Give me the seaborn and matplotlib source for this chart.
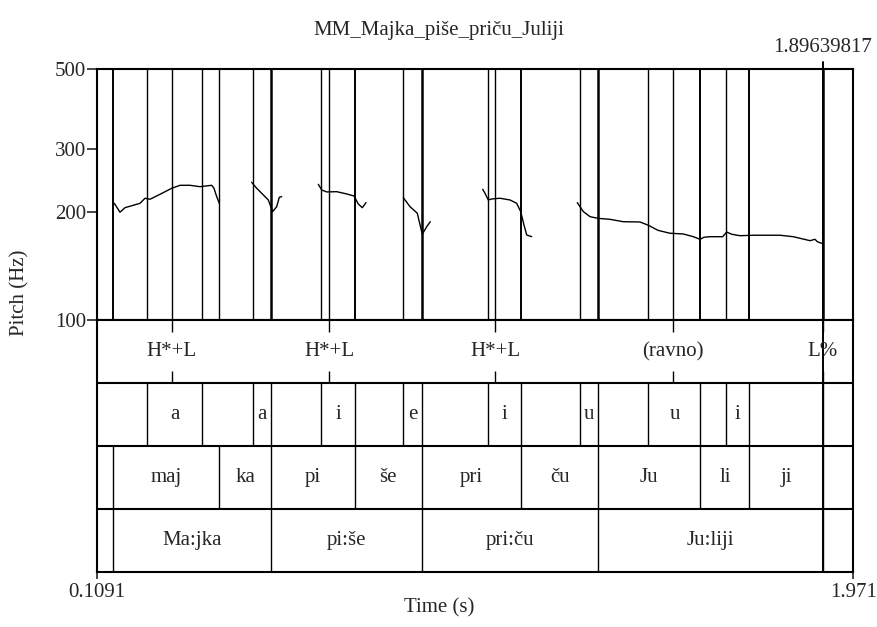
import numpy as np
import pandas as pd
import matplotlib
matplotlib.use("Agg")
import matplotlib.pyplot as plt
import seaborn as sns

T_START = 0.1091
T_END = 1.971
MARK_TIME = 1.89639817
TITLE = "MM_Majka_piše_priču_Juliji"

# pitch contour, one list per voiced stretch (time in s, f0 in Hz)
seg1_t = [0.1517, 0.1657, 0.1780, 0.2150, 0.2273, 0.2396, 0.2642, 0.2930, 0.3134, 0.3381, 0.3627, 0.3915, 0.3971, 0.4038, 0.4102]
seg1_f = [211.3, 199.6, 205.5, 211.3, 218.3, 216.9, 223.9, 232.7, 237.2, 237.2, 235.1, 237.2, 232.7, 220.5, 211.3]
seg2_t = [0.4899, 0.5023, 0.5146, 0.5308, 0.5416, 0.5515, 0.5579, 0.5638]
seg2_f = [241.8, 232.7, 225.3, 215.9, 200.4, 206.8, 219.7, 220.5]
seg3_t = [0.6539, 0.6623, 0.6746, 0.6992, 0.7238, 0.7418, 0.7524, 0.7622, 0.7713]
seg3_f = [238.7, 230.2, 227.3, 227.7, 224.4, 221.5, 210.4, 205.5, 212.2]
seg4_t = [0.8632, 0.8797, 0.8976, 0.9099, 0.9208, 0.9296]
seg4_f = [219.1, 206.8, 198.3, 173.3, 181.9, 187.8]
seg5_t = [1.0586, 1.0643, 1.0724, 1.0808, 1.1012, 1.1258, 1.1423, 1.1522, 1.1603, 1.1670, 1.1793]
seg5_f = [231.2, 225.3, 215.9, 217.3, 218.3, 215.9, 211.3, 200.4, 183.9, 172.5, 170.6]
seg6_t = [1.2915, 1.3063, 1.3228, 1.3425, 1.3720, 1.4048, 1.4459, 1.4668, 1.4902, 1.5197, 1.5525, 1.5771,
          1.5936, 1.6034, 1.6182, 1.6495, 1.6593, 1.6716, 1.6921, 1.7248, 1.7905, 1.8233, 1.8644, 1.8767,
          1.8824, 1.8932]
seg6_f = [212.2, 200.4, 194.0, 191.9, 190.7, 187.8, 187.5, 183.5, 177.7, 174.4, 173.6, 170.6,
          167.8, 170.0, 170.6, 170.6, 175.8, 173.3, 171.7, 172.2, 172.2, 170.6, 166.3, 167.8,
          165.2, 163.5]

# text grid tiers
tone_times = [0.2930, 0.6810, 1.0897, 1.5271, 1.8957]
tone_labels = ["H*+L", "H*+L", "H*+L", "(ravno)", "L%"]

vowel_bounds = [0.2315, 0.3683, 0.4939, 0.5375, 0.6613, 0.7435, 0.8624, 0.9092, 1.0724,
                1.1534, 1.2974, 1.3425, 1.4668, 1.5948, 1.6569, 1.7150, 1.8957]
vowel_labels = ["", "a", "", "a", "", "i", "", "e", "", "i", "", "u", "", "u", "", "i", "", ""]

syll_bounds = [0.1478, 0.4102, 0.5375, 0.7435, 0.9092, 1.1534, 1.3425, 1.5948, 1.7150, 1.8957]
syll_labels = ["", "maj", "ka", "pi", "še", "pri", "ču", "Ju", "li", "ji", ""]

word_bounds = [0.1478, 0.5375, 0.9092, 1.3425, 1.8957]
word_labels = ["", "Ma:jka", "pi:še", "pri:ču", "Ju:liji", ""]

pitch_ticks = [100, 200, 300, 500]

sns.set_style("ticks")
plt.rcParams["font.family"] = ["Liberation Serif", "DejaVu Serif"]
FS = 15

W, H = 878, 627
fig = plt.figure(figsize=(W / 100, H / 100), dpi=100)
left, right = 97, 853.3
top, mid, bottom = 69, 320, 572
ax_p = fig.add_axes([left / W, 1 - mid / H, (right - left) / W, (mid - top) / H])
ax_t = fig.add_axes([left / W, 1 - bottom / H, (right - left) / W, (bottom - mid) / H])

segs = [(seg1_t, seg1_f), (seg2_t, seg2_f), (seg3_t, seg3_f),
        (seg4_t, seg4_f), (seg5_t, seg5_f), (seg6_t, seg6_f)]
pitch_df = pd.concat([pd.DataFrame({"time": t, "f0": f, "seg": i}) for i, (t, f) in enumerate(segs)],
                     ignore_index=True)

ax_p.set_yscale("log")
sns.lineplot(data=pitch_df, x="time", y="f0", units="seg", estimator=None, sort=False,
             color="black", lw=1.0, ax=ax_p, legend=False)

# boundaries of all tiers, extended into the pitch area
all_times = tone_times + vowel_bounds + syll_bounds + word_bounds
counts = pd.Series(all_times).value_counts()
for t, c in counts.items():
    ax_p.axvline(t, color="black", lw=1.0 + 0.4 * min(c - 1, 2), zorder=1)

ax_p.set_xlim(T_START, T_END)
ax_p.set_ylim(100, 500)
ax_p.set_yticks(pitch_ticks)
ax_p.set_yticklabels([str(v) for v in pitch_ticks], fontsize=FS)
ax_p.yaxis.set_minor_locator(matplotlib.ticker.NullLocator())
ax_p.set_xticks([])
ax_p.set_xlabel("")
ax_p.set_ylabel("")
ax_p.tick_params(axis="y", length=7, width=1.2, pad=1)

# tiers
ax_t.set_xlim(T_START, T_END)
ax_t.set_ylim(4, 0)
for y in [1, 2, 3]:
    ax_t.axhline(y, color="black", lw=1.5)

tick_h = 0.19
for t, lab in zip(tone_times, tone_labels):
    ax_t.vlines(t, 0, tick_h, color="black", lw=1.0)
    ax_t.vlines(t, 1 - tick_h, 1, color="black", lw=1.0)
    ax_t.text(t, 0.5, lab, ha="center", va="center", fontsize=FS)

for row, (bounds, labels) in enumerate([(vowel_bounds, vowel_labels),
                                        (syll_bounds, syll_labels),
                                        (word_bounds, word_labels)], start=1):
    edges = [T_START] + bounds + [T_END]
    ax_t.vlines(bounds, row, row + 1, color="black", lw=1.0)
    for a, b, lab in zip(edges[:-1], edges[1:], labels):
        if lab:
            ax_t.text((a + b) / 2, row + 0.5, lab, ha="center", va="center", fontsize=FS)

ax_t.set_yticks([])
ax_t.set_xticks([T_START, T_END])
ax_t.set_xticklabels(["0.1091", "1.971"], fontsize=FS)
ax_t.tick_params(axis="x", length=5, width=1.2, pad=3)

# marked time line through whole picture
ax_t.axvline(MARK_TIME, color="black", lw=1.4)
ax_p.plot([MARK_TIME, MARK_TIME], [0, 1.027], color="black", lw=1.4,
          transform=ax_p.get_xaxis_transform(), clip_on=False)
ax_p.text(MARK_TIME, 1.085, "1.89639817", ha="center", va="center", fontsize=FS,
          transform=ax_p.get_xaxis_transform())

for ax in (ax_p, ax_t):
    for s in ax.spines.values():
        s.set_visible(True)
        s.set_linewidth(1.5)
        s.set_color("black")

fig.text(0.5, 1 - 30 / H, TITLE, ha="center", va="center", fontsize=FS)
fig.text(0.5, 1 - 608 / H, "Time (s)", ha="center", va="center", fontsize=FS)
fig.text(20 / W, 1 - 293 / H, "Pitch (Hz)", ha="center", va="center", rotation=90, fontsize=FS)

fig.savefig("out.png", dpi=100, facecolor="white")
